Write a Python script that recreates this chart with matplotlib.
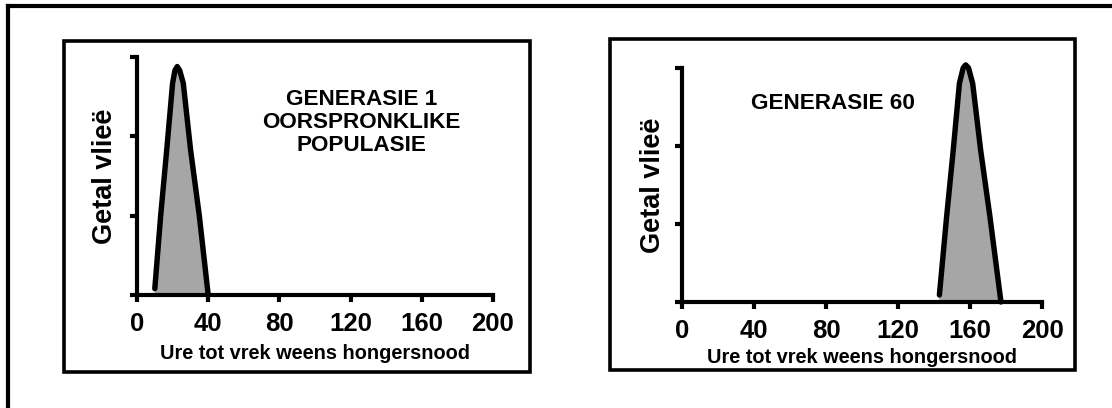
import matplotlib
matplotlib.use('Agg')
import matplotlib.pyplot as plt
from matplotlib.patches import Rectangle
from matplotlib.lines import Line2D

plt.rcParams['font.family'] = ['Liberation Sans', 'DejaVu Sans']
plt.rcParams['font.weight'] = 'bold'

# hours until death from starvation vs number of flies
gen1_x = [10, 13.3, 16.7, 20, 21.3, 22.6, 24, 26, 30.1, 35, 40]
gen1_y = [0.08, 1.0, 1.83, 2.67, 2.83, 2.88, 2.83, 2.67, 1.83, 1.0, 0]
gen60_x = [143, 147, 150.7, 154.1, 156.2, 157.6, 159.2, 161.5, 165.9, 171.1, 177.2]
gen60_y = [0.09, 1.09, 1.95, 2.8, 3.0, 3.04, 3.0, 2.8, 1.95, 1.09, 0]

xticks = [0, 40, 80, 120, 160, 200]
xlabel = 'Ure tot vrek weens hongersnood'
ylabel = 'Getal vlieë'
text1 = 'GENERASIE 1\nOORSPRONKLIKE\nPOPULASIE'
text2 = 'GENERASIE 60'

W, H = 1112, 408
fig = plt.figure(figsize=(W / 100, H / 100), dpi=100)


def px_rect(x0, y0, x1, y1, lw):
    fig.add_artist(Rectangle((x0 / W, 1 - y1 / H), (x1 - x0) / W, (y1 - y0) / H,
                             transform=fig.transFigure, fill=False,
                             edgecolor='black', linewidth=lw))


# outer frame (runs off the right and bottom edges)
fig.add_artist(Line2D([8 / W, 8 / W], [0, 1 - 6 / H], transform=fig.transFigure,
                      color='black', lw=3, solid_capstyle='projecting'))
fig.add_artist(Line2D([8 / W, 1], [1 - 6 / H, 1 - 6 / H], transform=fig.transFigure,
                      color='black', lw=3, solid_capstyle='projecting'))
# inner boxes
px_rect(64, 41, 530, 372, 2.6)
px_rect(610, 39, 1075, 370, 2.6)


def panel(rect, xs, ys, label, lx, ly, xlab_pad, ylab_pad):
    ax = fig.add_axes(rect)
    ax.fill_between(xs, ys, 0, color='#a6a6a6', clip_on=False, zorder=1)
    ax.plot(xs, ys, color='black', lw=3.9, solid_joinstyle='round',
            solid_capstyle='round', clip_on=False, zorder=2)
    ax.set_xlim(0, 200)
    ax.set_ylim(0, 3)
    ax.set_xticks(xticks)
    ax.set_yticks([0, 1, 2, 3])
    ax.set_yticklabels([])
    for s in ['top', 'right']:
        ax.spines[s].set_visible(False)
    for s in ['left', 'bottom']:
        ax.spines[s].set_linewidth(3)
    ax.tick_params(axis='both', direction='out', length=5, width=3)
    ax.tick_params(axis='x', labelsize=18.5, pad=7)
    ax.set_xlabel(xlabel, fontsize=14.4, fontweight='bold', labelpad=xlab_pad)
    ax.set_ylabel(ylabel, fontsize=19.5, fontweight='bold', labelpad=ylab_pad)
    ax.text(lx, ly, label, ha='center', va='center', fontsize=16.2,
            fontweight='bold', linespacing=1.12)
    return ax


panel([137 / W, 1 - 295 / H, 356 / W, 238 / H], gen1_x, gen1_y, text1, 126, 2.17, 6, 5)
panel([682 / W, 1 - 302 / H, 360 / W, 234 / H], gen60_x, gen60_y, text2, 84, 2.55, 4, 3)

fig.savefig('out.png', dpi=100)
